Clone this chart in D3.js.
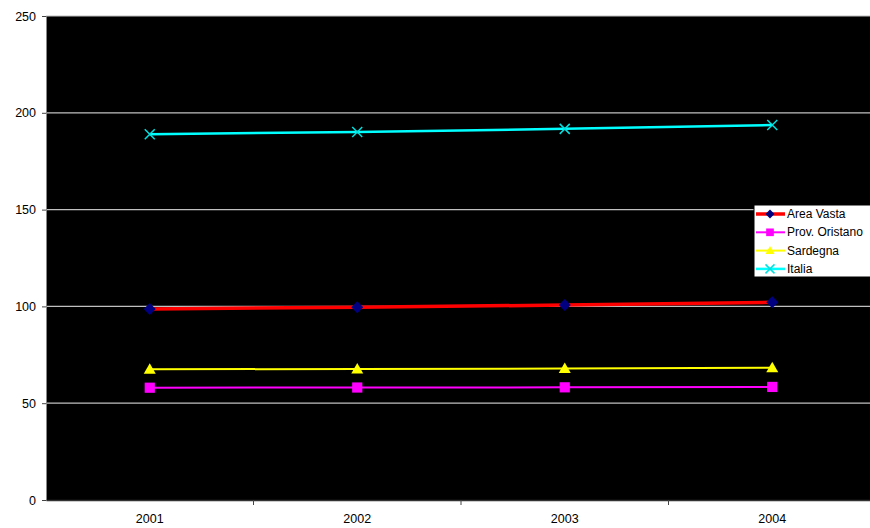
<!DOCTYPE html>
<html><head><meta charset="utf-8">
<script src="https://cdn.jsdelivr.net/npm/d3@7"></script>
<style>body{margin:0;background:#fff;}svg{display:block;font-family:"Liberation Sans",Arial,sans-serif;}</style>
</head><body>
<script>
const categories = ["2001","2002","2003","2004"];
const areaVasta = [98.7, 99.6, 100.7, 102.1];
const provOristano = [58.0, 58.1, 58.2, 58.4];
const sardegna = [67.5, 67.7, 67.9, 68.3];
const italia = [188.9, 190.1, 191.7, 193.7];
const yTicks = [0, 50, 100, 150, 200, 250];
const seriesNames = ["Area Vasta","Prov. Oristano","Sardegna","Italia"];

const series = [
  {name: seriesNames[0], values: areaVasta, color: "#ff0000", width: 3.5, marker: "diamond", mcolor: "#000080"},
  {name: seriesNames[1], values: provOristano, color: "#ff00ff", width: 2, marker: "square", mcolor: "#ff00ff"},
  {name: seriesNames[2], values: sardegna, color: "#ffff00", width: 2, marker: "triangle", mcolor: "#ffff00"},
  {name: seriesNames[3], values: italia, color: "#00ffff", width: 2.5, marker: "x", mcolor: "#00e0e0"}
];

const W = 870, H = 528;
const m = {left: 46, top: 16, right: -6, bottom: 28};
const svg = d3.select("body").append("svg").attr("width", W).attr("height", H);

const x = d3.scaleBand().domain(categories).range([m.left, W - m.right]);
const y = d3.scaleLinear().domain([0, 250]).range([H - m.bottom, m.top]);

svg.append("rect").attr("x", m.left).attr("y", m.top)
  .attr("width", W - m.right - m.left).attr("height", H - m.bottom - m.top).attr("fill", "#000");

// gridlines
svg.append("g").selectAll("line").data(yTicks.filter(d => d > 0)).join("line")
  .attr("x1", m.left).attr("x2", W).attr("y1", d => y(d)).attr("y2", d => y(d))
  .attr("stroke", "#c0c0c0").attr("stroke-width", 1.2);

// y axis
const ya = svg.append("g").attr("transform", `translate(${m.left},0)`)
  .call(d3.axisLeft(y).tickValues(yTicks).tickSize(4).tickPadding(6));
ya.select(".domain").attr("stroke", "#888");
ya.selectAll(".tick line").attr("stroke", "#444");
ya.selectAll("text").attr("font-size", 12.5).attr("fill", "#000").attr("font-family", "Liberation Sans, Arial");

// x axis
const xa = svg.append("g").attr("transform", `translate(0,${H - m.bottom})`)
  .call(d3.axisBottom(x).tickSize(0).tickPadding(14));
xa.select(".domain").attr("stroke", "#333").attr("stroke-width", 1.5);
xa.selectAll("text").attr("font-size", 12.5).attr("fill", "#000").attr("font-family", "Liberation Sans, Arial");
// category boundary ticks
svg.append("g").selectAll("line").data(categories.slice(1)).join("line")
  .attr("x1", d => x(d)).attr("x2", d => x(d))
  .attr("y1", H - m.bottom).attr("y2", H - m.bottom + 5).attr("stroke", "#444");

const cx = d => x(d) + x.bandwidth() / 2;

function drawMarker(g, type, color, px, py, s) {
  if (type === "diamond") {
    g.append("path").attr("d", `M${px},${py - s}L${px + s},${py}L${px},${py + s}L${px - s},${py}Z`).attr("fill", color);
  } else if (type === "square") {
    g.append("rect").attr("x", px - s * 0.85).attr("y", py - s * 0.85).attr("width", s * 1.7).attr("height", s * 1.7).attr("fill", color);
  } else if (type === "triangle") {
    g.append("path").attr("d", `M${px},${py - s}L${px + s},${py + s * 0.75}L${px - s},${py + s * 0.75}Z`).attr("fill", color);
  } else if (type === "x") {
    g.append("path").attr("d", `M${px - s},${py - s}L${px + s},${py + s}M${px - s},${py + s}L${px + s},${py - s}`)
      .attr("stroke", color).attr("stroke-width", 1.5);
  }
}

const line = d3.line().x((d, i) => cx(categories[i])).y(d => y(d));
series.forEach(s => {
  const g = svg.append("g");
  g.append("path").datum(s.values).attr("d", line).attr("fill", "none")
    .attr("stroke", s.color).attr("stroke-width", s.width);
  s.values.forEach((v, i) => drawMarker(g, s.marker, s.mcolor, cx(categories[i]), y(v), s.marker === "x" ? 5 : 6));
});

// legend
const lg = svg.append("g").attr("transform", "translate(754,205)");
lg.append("rect").attr("x", 0).attr("y", 0).attr("width", 130).attr("height", 72)
  .attr("fill", "#fff").attr("stroke", "#000").attr("stroke-width", 1);
series.forEach((s, i) => {
  const yy = 9 + i * 18.3;
  lg.append("line").attr("x1", 2).attr("x2", 31).attr("y1", yy).attr("y2", yy)
    .attr("stroke", s.color).attr("stroke-width", s.width);
  drawMarker(lg, s.marker, s.mcolor, 16, yy, 4.5);
  lg.append("text").attr("x", 33).attr("y", yy + 4).attr("font-size", 12)
    .attr("fill", "#000").text(s.name);
});
</script>
</body></html>
